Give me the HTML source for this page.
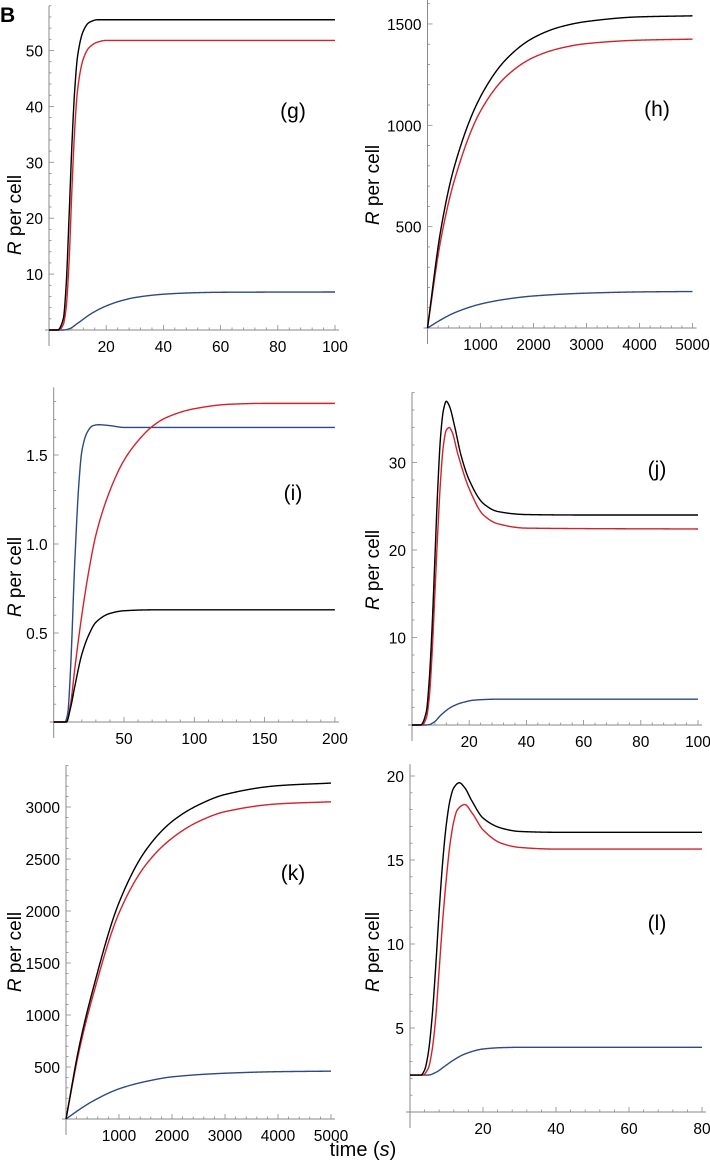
<!DOCTYPE html>
<html><head><meta charset="utf-8"><style>
body{margin:0;background:#fff;}
svg{display:block;font-family:"Liberation Sans",sans-serif;}
</style></head><body>
<svg id="fig" width="710" height="1168" viewBox="0 0 710 1168">
<text x="0" y="22" font-size="21" font-weight="bold">B</text>
<text x="363" y="1156" font-size="20" text-anchor="middle">time (<tspan font-style="italic">s</tspan>)</text>
</svg>
<script>
// ---- data (t, value pairs) ----
const gTicksX=[20,40,60,80,100], gTicksY=[10,20,30,40,50];
const gBlack=[[0,0],[3,0],[5,2],[6,8],[7,20],[8,33],[9,43],[10,49],[12,53.5],[14,55],[17,55.5],[100,55.5]];
const gRed=[[0,0],[3.5,0],[5,1],[6,4],[7,12],[8,25],[9,36],[10,43],[12,48.5],[14,50.5],[17,51.5],[20,51.8],[100,51.8]];
const gBlue=[[0,0],[5,0],[7,0.2],[10,1.2],[15,3],[20,4.3],[25,5.2],[30,5.8],[40,6.4],[50,6.65],[60,6.75],[100,6.8]];

const hTicksX=[1000,2000,3000,4000,5000], hTicksY=[500,1000,1500];
const hBlack=[[0,0],[250,483],[500,790],[1000,1141],[1500,1330],[2000,1432],[2500,1485],[3000,1512],[4000,1535],[5000,1540]];
const hRed=[[0,0],[250,434],[500,722],[1000,1070],[1500,1245],[2000,1335],[2500,1380],[3000,1403],[4000,1420],[5000,1425]];
const hBlue=[[0,0],[250,40],[500,74],[1000,118],[1500,143],[2000,158],[3000,172],[4000,178],[5000,180]];

const iTicksX=[50,100,150,200], iTicksY=[0.5,1.0,1.5];
const iBlue=[[0,0],[8,0],[10,0.05],[12,0.3],[15,0.9],[18,1.35],[20,1.52],[24,1.63],[28,1.665],[32,1.67],[40,1.665],[50,1.655],[200,1.655]];
const iRed=[[0,0],[9,0],[12,0.1],[15,0.3],[20,0.6],[25,0.85],[30,1.05],[40,1.3],[50,1.47],[60,1.58],[70,1.66],[80,1.71],[100,1.76],[125,1.785],[150,1.79],[200,1.79]];
const iBlack=[[0,0],[9,0],[12,0.08],[15,0.2],[20,0.38],[25,0.49],[30,0.56],[40,0.61],[50,0.625],[70,0.63],[200,0.63]];

const jTicksX=[20,40,60,80,100], jTicksY=[10,20,30];
const jBlack=[[0,0],[3,0],[5,1.5],[6,5],[7,11],[8,19],[9,27],[10,33],[11,36],[12,37],[13,36.5],[15,34],[17,31],[20,28],[25,25.3],[30,24.4],[40,24.05],[60,24],[100,24]];
const jRed=[[0,0],[3.5,0],[5,0.8],[6,3],[7,8],[8,15],[9,22],[10,28],[11,32],[12,33.7],[13,34],[14,33.5],[16,31],[20,27],[25,24],[30,23],[40,22.5],[100,22.4]];
const jBlue=[[0,0],[5,0],[6,0.05],[8,0.4],[10,1.1],[14,2.1],[18,2.6],[22,2.85],[30,2.95],[100,2.95]];

const kTicksX=[1000,2000,3000,4000,5000], kTicksY=[500,1000,1500,2000,2500,3000];
const kBlack=[[0,0],[250,700],[500,1230],[1000,2080],[1500,2580],[2000,2860],[2500,3020],[3000,3120],[4000,3205],[5000,3230]];
const kRed=[[0,0],[250,660],[500,1170],[1000,1980],[1500,2440],[2000,2700],[2500,2860],[3000,2955],[4000,3030],[5000,3050]];
const kBlue=[[0,0],[250,90],[500,170],[1000,290],[1500,360],[2000,405],[3000,440],[4000,455],[5000,460]];

const lTicksX=[20,40,60,80], lTicksY=[5,10,15,20];
const lBlack=[[0,2.2],[3,2.2],[4,2.5],[5,3.5],[6,5.5],[7,8.5],[8,12],[9,15],[10,17.2],[11,18.6],[12,19.3],[13.5,19.6],[15,19.3],[17,18.5],[20,17.5],[25,16.9],[30,16.7],[40,16.65],[80,16.65]];
const lRed=[[0,2.2],[3.5,2.2],[5,2.6],[6,3.6],[7,5.5],[8,8.5],[9,11.5],[10,14],[11,16],[12,17.3],[13,18],[15,18.3],[17,17.8],[20,16.8],[25,16],[30,15.75],[40,15.65],[80,15.65]];
const lBlue=[[0,2.2],[5,2.2],[7,2.35],[10,2.8],[12,3.1],[15,3.45],[20,3.75],[25,3.83],[30,3.85],[80,3.85]];

// ---- layout ----
const NS="http://www.w3.org/2000/svg";
const svg=document.getElementById('fig');
function mk(tag,attrs,parent){const e=document.createElementNS(NS,tag);for(const k in attrs)e.setAttribute(k,attrs[k]);(parent||svg).appendChild(e);return e;}
const panels=[
 {id:'g',x0:49,px:2.86,y0:330,py:5.59,xmax:100,ymax:58,tx:gTicksX,ty:gTicksY,minX:4,minY:2,series:[gBlue,gRed,gBlack],lab:[293,118],yl:[14,215],dec:0},
 {id:'h',x0:427.5,px:0.0530,y0:328,py:0.2027,xmax:5000,ymax:1620,tx:hTicksX,ty:hTicksY,minX:200,minY:100,series:[hBlue,hRed,hBlack],lab:[657,116],yl:[372,185],dec:0},
 {id:'i',x0:53.7,px:1.406,y0:722,py:178,xmax:200,ymax:1.88,tx:iTicksX,ty:iTicksY,minX:10,minY:0.1,series:[iBlue,iRed,iBlack],lab:[293,500],yl:[14,577],dec:1},
 {id:'j',x0:412,px:2.86,y0:725,py:8.75,xmax:100,ymax:38,tx:jTicksX,ty:jTicksY,minX:4,minY:2,series:[jBlue,jRed,jBlack],lab:[657,476],yl:[372,570],dec:0},
 {id:'k',x0:66,px:0.053,y0:1119,py:0.104,xmax:5000,ymax:3400,tx:kTicksX,ty:kTicksY,minX:200,minY:100,series:[kBlue,kRed,kBlack],lab:[293,880],yl:[14,952],dec:0},
 {id:'l',x0:410,px:3.65,y0:1112,py:16.8,xmax:80,ymax:20.7,tx:lTicksX,ty:lTicksY,minX:4,minY:1,series:[lBlue,lRed,lBlack],lab:[657,930],yl:[372,952],dec:0}
];
const colors=['#2b4a86','#d2232a','#000000'];
const names=['blue-curve','red-curve','black-curve'];
// monotone cubic (Fritsch-Carlson) interpolation in data space
function monotone(pts){
  const n=pts.length,xs=pts.map(p=>p[0]),ys=pts.map(p=>p[1]);
  const d=[],m=new Array(n);
  for(let i=0;i<n-1;i++)d.push((ys[i+1]-ys[i])/(xs[i+1]-xs[i]));
  m[0]=d[0];m[n-1]=d[n-2];
  for(let i=1;i<n-1;i++){
    if(d[i-1]*d[i]<=0)m[i]=0;
    else{const h0=xs[i]-xs[i-1],h1=xs[i+1]-xs[i];const w1=2*h1+h0,w2=h1+2*h0;m[i]=(w1+w2)/(w1/d[i-1]+w2/d[i]);}
  }
  return t=>{
    let i=0;while(i<n-2&&t>xs[i+1])i++;
    const h=xs[i+1]-xs[i],s=(t-xs[i])/h;
    const h00=2*s*s*s-3*s*s+1,h10=s*s*s-2*s*s+s,h01=-2*s*s*s+3*s*s,h11=s*s*s-s*s;
    return h00*ys[i]+h10*h*m[i]+h01*ys[i+1]+h11*h*m[i+1];
  };
}
function pathFrom(pts,X,Y){
  const f=monotone(pts),a=pts[0][0],b=pts[pts.length-1][0],N=600;
  let d='';
  for(let k=0;k<=N;k++){const t=a+(b-a)*k/N;d+=(k?'L':'M')+X(t).toFixed(2)+','+Y(f(t)).toFixed(2);}
  return d;
}
panels.forEach(p=>{
  const X=v=>p.x0+v*p.px, Y=v=>p.y0-v*p.py;
  const g=mk('g',{});
  
  
  const ax=mk('line',{x1:p.x0-4,y1:p.y0,x2:X(p.xmax)+4,y2:p.y0,stroke:'#8a8a8a','stroke-width':1},g);
  
  
  const ay=mk('line',{x1:p.x0,y1:p.y0+16,x2:p.x0,y2:Y(p.ymax),stroke:'#8a8a8a','stroke-width':1},g);
  
  
  for(let v=p.minX;v<=p.xmax+1e-9;v+=p.minX){
    const major=p.tx.some(t=>Math.abs(t-v)<1e-6);
    mk('line',{x1:X(v),y1:p.y0,x2:X(v),y2:p.y0-(major?5:2.5),stroke:'#8a8a8a','stroke-width':0.8},g);
  }
  for(let v=p.minY;v<=p.ymax+1e-9;v+=p.minY){
    const major=p.ty.some(t=>Math.abs(t-v)<1e-6);
    mk('line',{x1:p.x0,y1:Y(v),x2:p.x0+(major?5:2.5),y2:Y(v),stroke:'#8a8a8a','stroke-width':0.8},g);
  }
  p.tx.forEach(t=>{
    const e=mk('text',{x:X(t),y:p.y0+22,'font-size':15.5,'text-anchor':'middle'},g);
    e.textContent=t;
    
    
  });
  p.ty.forEach(t=>{
    const e=mk('text',{x:p.x0-6,y:Y(t)+6,'font-size':15.5,'text-anchor':'end'},g);
    e.textContent=p.dec?t.toFixed(p.dec):t;
    
    
  });
  p.series.forEach((s,i)=>{
    const e=mk('path',{d:pathFrom(s,X,Y),fill:'none',stroke:colors[i],'stroke-width':1.4,'stroke-linejoin':'round'},g);
    
    
  });
  const lb=mk('text',{x:p.lab[0],y:p.lab[1],'font-size':21,'text-anchor':'middle'},g);
  lb.textContent='('+p.id+')';
  
  
  const yl=mk('text',{x:0,y:0,'font-size':19,'text-anchor':'middle',transform:'translate('+(p.yl[0]+7)+','+p.yl[1]+') rotate(-90)'},g);
  yl.innerHTML='<tspan font-style="italic">R</tspan> per cell';
  
  
});
</script>
</body></html>
